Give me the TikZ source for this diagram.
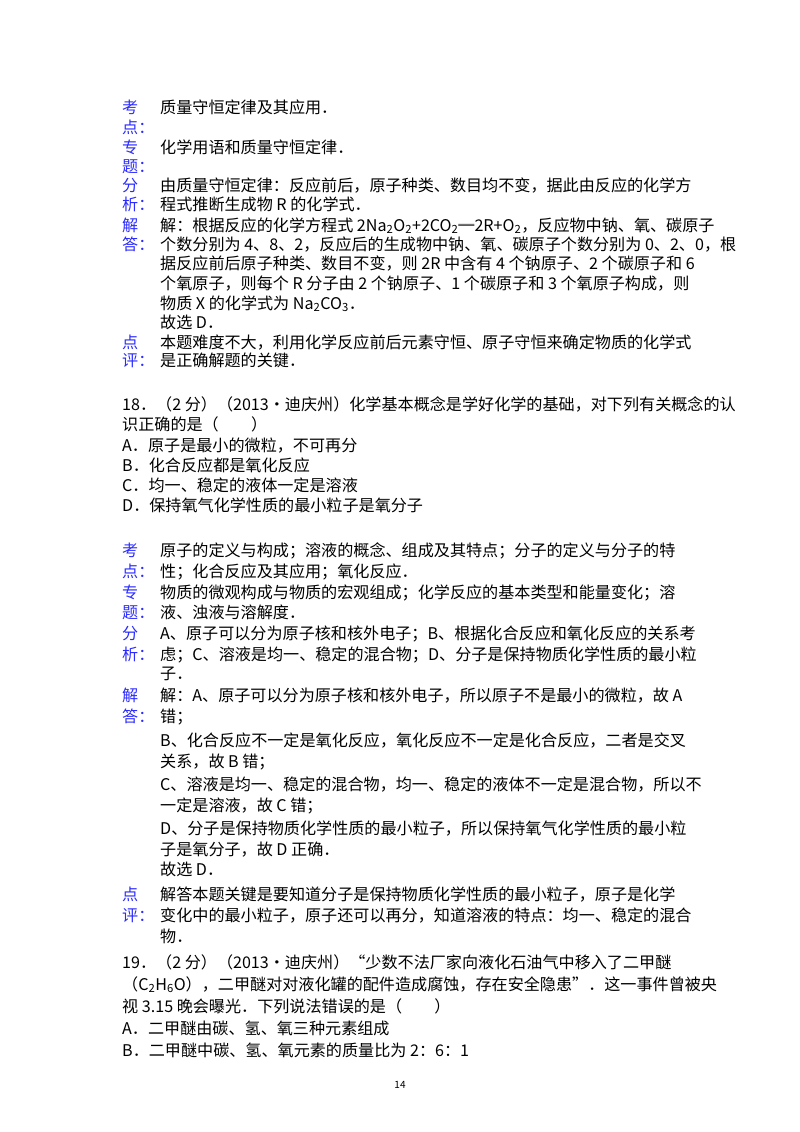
\documentclass[tikz,border=0pt]{standalone}
\usepackage{fontspec}
\setmainfont{Noto Sans CJK SC}
\newcommand{\subs}[1]{\textsubscript{#1}}
\definecolor{lab}{HTML}{2B2BFF}
\begin{document}
\begin{tikzpicture}[x=1pt,y=-1pt,
  t/.style={anchor=base west,inner sep=0pt,font=\fontsize{16.1}{16.1}\selectfont},
  lb/.style={t,text=lab}]
\useasboundingbox (0,0) rectangle (800,1132);
\fill[white] (0,0) rectangle (800,1132);
% block 17
\node[lb] (a1) at (122,113) {考};
\node[lb] (a2) at (122,133) {点：};
\node[t] (b1) at (160,113) {质量守恒定律及其应用．};
\node[lb] (a3) at (122,153) {专};
\node[lb] (a4) at (122,172) {题：};
\node[t] (b2) at (160,153) {化学用语和质量守恒定律．};
\node[lb] (a5) at (122,191) {分};
\node[lb] (a6) at (122,210) {析：};
\node[t] (b3) at (160,191) {由质量守恒定律：反应前后，原子种类、数目均不变，据此由反应的化学方};
\node[t] (b4) at (160,210) {程式推断生成物 R 的化学式．};
\node[lb] (a7) at (122,231) {解};
\node[lb] (a8) at (122,250) {答：};
\node[t] (b5) at (160,231) {解：根据反应的化学方程式 2Na\subs{2}O\subs{2}+2CO\subs{2}═2R+O\subs{2}，反应物中钠、氧、碳原子};
\node[t] (b6) at (160,250) {个数分别为 4、8、2，反应后的生成物中钠、氧、碳原子个数分别为 0、2、0，根};
\node[t] (b7) at (160,269) {据反应前后原子种类、数目不变，则 2R 中含有 4 个钠原子、2 个碳原子和 6};
\node[t] (b8) at (160,289) {个氧原子，则每个 R 分子由 2 个钠原子、1 个碳原子和 3 个氧原子构成，则};
\node[t] (b9) at (160,309) {物质 X 的化学式为 Na\subs{2}CO\subs{3}．};
\node[t] (b10) at (160,328) {故选 D．};
\node[lb] (a9) at (122,348) {点};
\node[lb] (a10) at (122,366) {评：};
\node[t] (b11) at (160,348) {本题难度不大，利用化学反应前后元素守恒、原子守恒来确定物质的化学式};
\node[t] (b12) at (160,366) {是正确解题的关键．};
% question 18
\node[t] (q1) at (122,410) {18．（2 分）（2013•迪庆州）化学基本概念是学好化学的基础，对下列有关概念的认};
\node[t] (q2) at (122,430) {识正确的是（\hspace{2em}）};
\node[t] (q3) at (122,451) {A．原子是最小的微粒，不可再分};
\node[t] (q4) at (122,471) {B．化合反应都是氧化反应};
\node[t] (q5) at (122,491) {C．均一、稳定的液体一定是溶液};
\node[t] (q6) at (122,511) {D．保持氧气化学性质的最小粒子是氧分子};
\node[lb] (c1) at (122,556) {考};
\node[lb] (c2) at (122,577) {点：};
\node[t] (d1) at (160,556) {原子的定义与构成；溶液的概念、组成及其特点；分子的定义与分子的特};
\node[t] (d2) at (160,577) {性；化合反应及其应用；氧化反应．};
\node[lb] (c3) at (122,598) {专};
\node[lb] (c4) at (122,618) {题：};
\node[t] (d3) at (160,598) {物质的微观构成与物质的宏观组成；化学反应的基本类型和能量变化；溶};
\node[t] (d4) at (160,618) {液、浊液与溶解度．};
\node[lb] (c5) at (122,639) {分};
\node[lb] (c6) at (122,660) {析：};
\node[t] (d5) at (160,639) {A、原子可以分为原子核和核外电子；B、根据化合反应和氧化反应的关系考};
\node[t] (d6) at (160,660) {虑；C、溶液是均一、稳定的混合物；D、分子是保持物质化学性质的最小粒};
\node[t] (d7) at (160,679) {子．};
\node[lb] (c7) at (122,701) {解};
\node[lb] (c8) at (122,722) {答：};
\node[t] (d8) at (160,701) {解：A、原子可以分为原子核和核外电子，所以原子不是最小的微粒，故 A};
\node[t] (d9) at (160,722) {错；};
\node[t] (d10) at (160,746) {B、化合反应不一定是氧化反应，氧化反应不一定是化合反应，二者是交叉};
\node[t] (d11) at (160,767) {关系，故 B 错；};
\node[t] (d12) at (160,790) {C、溶液是均一、稳定的混合物，均一、稳定的液体不一定是混合物，所以不};
\node[t] (d13) at (160,811) {一定是溶液，故 C 错；};
\node[t] (d14) at (160,834) {D、分子是保持物质化学性质的最小粒子，所以保持氧气化学性质的最小粒};
\node[t] (d15) at (160,855) {子是氧分子，故 D 正确．};
\node[t] (d16) at (160,875) {故选 D．};
\node[lb] (c9) at (122,900) {点};
\node[lb] (c10) at (122,921) {评：};
\node[t] (d17) at (160,900) {解答本题关键是要知道分子是保持物质化学性质的最小粒子，原子是化学};
\node[t] (d18) at (160,921) {变化中的最小粒子，原子还可以再分，知道溶液的特点：均一、稳定的混合};
\node[t] (d19) at (160,942) {物．};
% question 19
\node[t] (e1) at (122,968) {19．（2 分）（2013•迪庆州）“少数不法厂家向液化石油气中移入了二甲醚};
\node[t] (e2) at (122,990) {（C\subs{2}H\subs{6}O），二甲醚对对液化罐的配件造成腐蚀，存在安全隐患”．这一事件曾被央};
\node[t] (e3) at (122,1012) {视 3.15 晚会曝光．下列说法错误的是（\hspace{2em}）};
\node[t] (e4) at (122,1034) {A．二甲醚由碳、氢、氧三种元素组成};
\node[t] (e5) at (122,1056) {B．二甲醚中碳、氢、氧元素的质量比为 2：6：1};
\node[anchor=base,inner sep=0pt,font=\fontsize{10}{10}\selectfont] (pg) at (400,1088) {14};
\end{tikzpicture}
\end{document}
